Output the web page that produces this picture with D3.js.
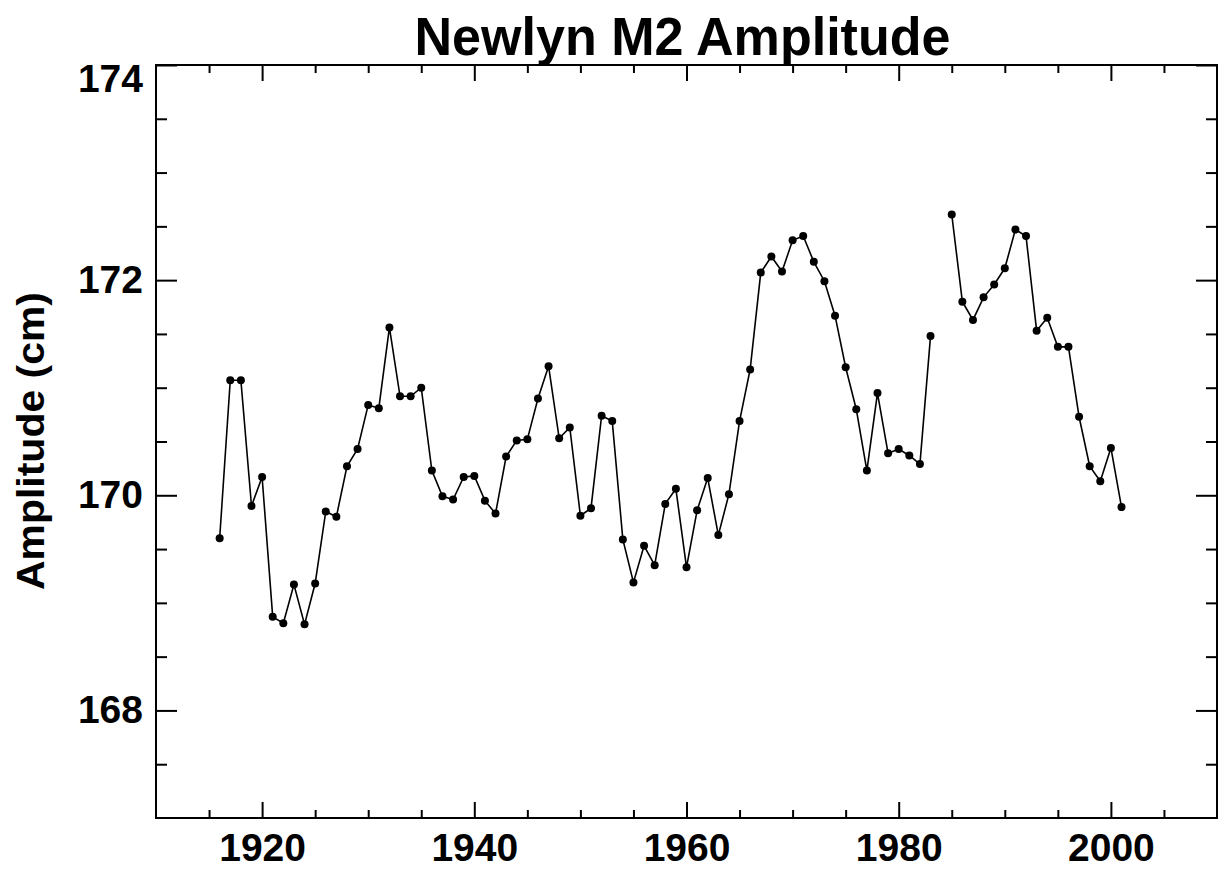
<!DOCTYPE html>
<html>
<head>
<meta charset="utf-8">
<script src="https://cdn.jsdelivr.net/npm/d3@7"></script>
<style>
  body { margin: 0; background: #fff; }
  svg { display: block; }
  text { font-family: "Liberation Sans", Arial, Helvetica, sans-serif; font-weight: bold; fill: #000; }
  .axis line { stroke: #000; stroke-width: 2; }
  .axis path { display: none; }
</style>
</head>
<body>
<div class="chart"></div>
<script>
// data (1984 missing)
const years = [1916, 1917, 1918, 1919, 1920, 1921, 1922, 1923, 1924, 1925,
  1926, 1927, 1928, 1929, 1930, 1931, 1932, 1933, 1934, 1935,
  1936, 1937, 1938, 1939, 1940, 1941, 1942, 1943, 1944, 1945,
  1946, 1947, 1948, 1949, 1950, 1951, 1952, 1953, 1954, 1955,
  1956, 1957, 1958, 1959, 1960, 1961, 1962, 1963, 1964, 1965,
  1966, 1967, 1968, 1969, 1970, 1971, 1972, 1973, 1974, 1975,
  1976, 1977, 1978, 1979, 1980, 1981, 1982, 1983, 1984, 1985,
  1986, 1987, 1988, 1989, 1990, 1991, 1992, 1993, 1994, 1995,
  1996, 1997, 1998, 1999, 2000, 2001];
const amplitude = [169.60, 171.07, 171.07, 169.90, 170.17, 168.87, 168.81, 169.17, 168.80, 169.18,
  169.85, 169.80, 170.27, 170.43, 170.84, 170.81, 171.56, 170.92, 170.92, 171.00,
  170.23, 169.99, 169.96, 170.17, 170.18, 169.95, 169.83, 170.36, 170.51, 170.52,
  170.90, 171.20, 170.53, 170.63, 169.81, 169.88, 170.74, 170.69, 169.59, 169.19,
  169.53, 169.35, 169.92, 170.06, 169.33, 169.86, 170.16, 169.63, 170.01, 170.69,
  171.17, 172.07, 172.22, 172.08, 172.37, 172.41, 172.17, 171.99, 171.67, 171.19,
  170.80, 170.23, 170.95, 170.39, 170.43, 170.37, 170.29, 171.48, null, 172.61,
  171.80, 171.63, 171.84, 171.96, 172.11, 172.47, 172.41, 171.53, 171.65, 171.38,
  171.38, 170.73, 170.27, 170.13, 170.44, 169.89];
const xMajor = [1920, 1940, 1960, 1980, 2000];
const xMinor = [1915, 1925, 1930, 1935, 1945, 1950, 1955, 1965, 1970, 1975, 1985, 1990, 1995, 2005];
const yMajor = [168, 170, 172, 174];
const yMinor = [167.5, 168.5, 169, 169.5, 170.5, 171, 171.5, 172.5, 173, 173.5];

const margin = { top: 65, right: 4, bottom: 53, left: 156 };
const width = 1221 - margin.left - margin.right,
    height = 871 - margin.top - margin.bottom;

const data = years.map((y, i) => ({ year: y, value: amplitude[i] }));

let svg = d3.select(".chart")
    .append("svg")
    .attr("width", 1221)
    .attr("height", 871)
    .append("g")
    .attr("transform", `translate(${margin.left}, ${margin.top})`);

let xScale = d3.scaleLinear().domain([1910, 2010]).range([0, width]);
let yScale = d3.scaleLinear().domain([167, 174]).range([height, 0]);

// ticks, pointing inward on all four sides
svg.append("g").attr("class", "axis x-axis")
    .attr("transform", `translate(0, ${height})`)
    .call(d3.axisBottom(xScale).tickValues(xMajor).tickSize(-16).tickPadding(15).tickFormat(d3.format("d")));
svg.append("g").attr("class", "axis")
    .attr("transform", `translate(0, ${height})`)
    .call(d3.axisBottom(xScale).tickValues(xMinor).tickSize(-8).tickFormat(""));
svg.append("g").attr("class", "axis")
    .call(d3.axisTop(xScale).tickValues(xMajor).tickSize(-16).tickFormat(""));
svg.append("g").attr("class", "axis")
    .call(d3.axisTop(xScale).tickValues(xMinor).tickSize(-8).tickFormat(""));

svg.append("g").attr("class", "axis y-axis")
    .call(d3.axisLeft(yScale).tickValues(yMajor).tickSize(-21).tickPadding(13).tickFormat(d3.format("d")));
svg.append("g").attr("class", "axis")
    .call(d3.axisLeft(yScale).tickValues(yMinor).tickSize(-11).tickFormat(""));
svg.append("g").attr("class", "axis")
    .attr("transform", `translate(${width}, 0)`)
    .call(d3.axisRight(yScale).tickValues(yMajor).tickSize(-21).tickFormat(""));
svg.append("g").attr("class", "axis")
    .attr("transform", `translate(${width}, 0)`)
    .call(d3.axisRight(yScale).tickValues(yMinor).tickSize(-11).tickFormat(""));

svg.selectAll(".x-axis text, .y-axis text")
    .style("font-size", "39px");
// top label sits inside the frame
svg.selectAll(".y-axis .tick text")
    .filter(d => d === 174)
    .attr("y", 14);

// frame
svg.append("rect")
    .attr("width", width)
    .attr("height", height)
    .attr("fill", "none")
    .attr("stroke", "#000")
    .attr("stroke-width", 2);

// series
const line = d3.line()
    .defined(d => d.value !== null)
    .x(d => xScale(d.year))
    .y(d => yScale(d.value));

svg.append("path")
    .datum(data)
    .attr("fill", "none")
    .attr("stroke", "#000")
    .attr("stroke-width", 1.6)
    .attr("d", line);

svg.selectAll(".dot")
    .data(data.filter(d => d.value !== null))
    .enter()
    .append("circle")
    .attr("class", "dot")
    .attr("cx", d => xScale(d.year))
    .attr("cy", d => yScale(d.value))
    .attr("r", 4)
    .attr("fill", "#000");

// titles
svg.append("text")
    .attr("x", width / 2 - 4)
    .attr("y", -10)
    .attr("text-anchor", "middle")
    .attr("textLength", 536)
    .attr("lengthAdjust", "spacingAndGlyphs")
    .style("font-size", "54px")
    .text("Newlyn M2 Amplitude");

svg.append("text")
    .attr("transform", `translate(${44 - margin.left}, ${441 - margin.top}) rotate(-90)`)
    .attr("text-anchor", "middle")
    .attr("textLength", 298)
    .attr("lengthAdjust", "spacingAndGlyphs")
    .style("font-size", "39px")
    .text("Amplitude (cm)");
</script>
</body>
</html>
